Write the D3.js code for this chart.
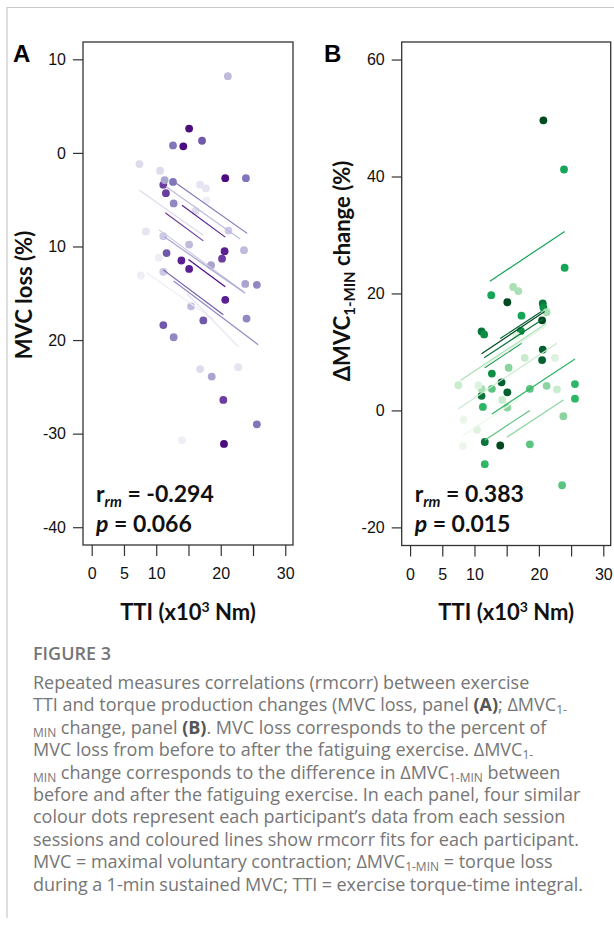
<!DOCTYPE html>
<html>
<head>
<meta charset="utf-8">
<script src="https://cdn.jsdelivr.net/npm/d3@7"></script>
<style>
  body { margin: 0; background: #fff; }
  svg { display: block; }
  .tick text { font-family: "Liberation Sans", Arial, sans-serif; font-size: 16px; fill: #111; }
  .tick line { stroke: #333; stroke-width: 1.2; }
  .ttl { font-family: Lato, "Open Sans", sans-serif; font-weight: 700; fill: #111; }
  .cap { font-family: "Open Sans", sans-serif; font-size: 18px; fill: #767676; }
</style>
</head>
<body>
<script>
// Achsen
const xTicks = [0, 5, 10, 15, 20, 25, 30];
const xTickLabels = ["0", "5", "10", "", "20", "", "30"];
const yTicksA = [10, 0, -10, -20, -30, -40];
const yTickLabelsA = ["10", "0", "10", "20", "-30", "-40"];
const yTicksB = [60, 40, 20, 0, -20];
const yTickLabelsB = ["60", "40", "20", "0", "-20"];

// Panel A: TTI (x10^3 Nm), MVC-Verlust (%), Proband
const ttiA  = [15.1, 14.2, 20.7, 20.5,  13.9, 15.1, 20.6, 20.7,  11.1, 11.5, 20.2, 20.4,
               11.6, 11.1, 17.3, 17.1,  12.6, 12.6, 23.9, 25.6,  12.7, 12.7, 25.6, 24.0,
               11.3, 18.6, 18.5, 23.8,  21.1, 15.1, 23.6, 15.4,  21.2, 11.1, 11.1,
               7.4, 10.6, 16.1, 16.8,   16.8, 17.7, 8.4, 22.7,   17.8, 10.4, 7.6, 14.0];
const lossA = [2.6, 0.7, -2.7, -31.1,   -11.5, -12.4, -10.5, -15.7,  -3.4, -4.3, -11.3, -26.4,
               -10.7, -18.4, -17.9, 1.3, 0.8, -3.1, -2.7, -29.0,     -5.4, -19.7, -14.1, -17.7,
               -2.9, -23.9, -12.0, -14.0, 8.2, -9.8, -10.4, -16.4,   -8.3, -8.9, -12.7,
               -1.2, -1.9, -6.2, -23.1,  -3.4, -3.8, -8.4, -22.9,    -5.1, -11.2, -13.1, -30.7];
const subjA = [11, 11, 11, 11, 10, 10, 10, 10, 9, 9, 9, 9, 8, 8, 8, 8, 7, 7, 7, 7, 6, 6, 6, 6,
               5, 5, 5, 5, 4, 4, 4, 4, 3, 3, 3, 2, 2, 2, 2, 1, 1, 1, 1, 0, 0, 0, 0];

// rmcorr-Geraden A
const fitSubjA = [7, 4, 2, 10, 9, 3, 11, 8, 6, 0, 1, 5];
const fitX0A = [12.6, 11.5, 7.4, 14.0, 11.4, 10.4, 15.0, 11.1, 12.7, 8.5, 14.7, 11.3];
const fitX1A = [24.1, 23.0, 17.3, 20.7, 17.3, 23.5, 20.7, 20.4, 25.8, 18.9, 22.7, 23.8];
const fitY0A = [-3.0, -3.6, -4.0, -5.6, -6.4, -8.2, -11.4, -12.5, -13.7, -12.8, -15.0, -9.0];
const fitY1A = [-8.6, -9.2, -8.8, -9.0, -9.4, -14.8, -14.3, -17.3, -20.5, -17.8, -20.7, -15.0];

// Panel B: TTI, Delta MVC 1-MIN (%), Proband
const ttiB   = [20.7, 15.1, 20.5, 14.0,  20.6, 20.5, 15.1, 14.2,  20.6, 11.1, 11.1, 11.6,
                20.7, 11.5, 17.2, 12.7,  23.9, 24.0, 12.6, 17.3,  25.6, 25.6, 11.3, 11.6,
                12.7, 18.6, 18.6, 23.6,  23.8, 15.1, 15.3, 21.2,  16.0, 16.8, 21.2, 11.1,
                7.5, 17.8, 14.3, 22.8,   16.5, 10.6, 22.5, 10.4,  8.3, 8.2];
const deltaB = [49.6, 18.5, 15.4, -6.0,  10.4, 8.6, 3.1, 4.8,     18.3, 13.5, 2.5, -5.4,
                17.6, 13.0, 13.6, 6.3,   41.2, 24.4, 19.7, 16.2,  4.5, 2.0, 0.6, -9.2,
                3.7, 3.7, -5.8, -12.8,   -1.0, 0.5, 7.3, 4.2,     21.1, 20.4, 16.8, 3.7,
                4.3, 9.0, 1.8, 3.6,      12.8, 4.3, 9.0, -3.3,    -1.6, -6.1];
const subjB = [11, 11, 11, 11, 10, 10, 10, 10, 9, 9, 9, 9, 8, 8, 8, 8, 7, 7, 7, 7, 6, 6, 6, 6,
               5, 5, 5, 5, 4, 4, 4, 4, 3, 3, 3, 3, 2, 2, 2, 2, 1, 1, 1, 1, 0, 0];

// rmcorr-Geraden B
const fitSubjB = [7, 11, 9, 10, 8, 3, 1, 6, 5, 4, 0, 2];
const fitX0B = [12.4, 11.1, 11.5, 14.0, 11.6, 7.8, 11.4, 12.7, 11.6, 15.0, 8.2, 7.5];
const fitX1B = [24.0, 20.9, 20.6, 20.4, 17.3, 21.2, 21.2, 25.6, 18.6, 23.8, 17.0, 22.8];
const fitY0B = [22.1, 9.7, 9.0, 12.3, 7.3, 5.1, 7.4, -0.6, -5.1, -4.6, -4.3, 0.3];
const fitY1B = [30.6, 16.9, 15.6, 16.9, 11.5, 14.9, 14.5, 8.8, 0.0, 1.8, 2.1, 11.5];

// Farben je Proband (hell -> dunkel)
const purples = ["#efeef6", "#e6e4f1", "#dddbec", "#cbc9e3", "#bebbdc", "#aaa4d0",
                 "#9088c3", "#8176b9", "#7058aa", "#6a3d9f", "#5a1f90", "#4b0c80"];
const greens = ["#ebf7eb", "#dff2e0", "#c9ebce", "#a9e0b5", "#8bd49f", "#5cc480",
                "#2db666", "#14a556", "#0c8f45", "#08763a", "#04602e", "#014a21"];

const W = 614, H = 931;
const svg = d3.select("body").append("svg").attr("width", W).attr("height", H);

// Rahmen der Seite
svg.append("path").attr("d", "M7,918V7.5H614")
  .attr("fill", "none").attr("stroke", "#c9c9c9").attr("stroke-width", 1.2);

function panel(o) {
  const x = d3.scaleLinear().domain(o.xDom).range([o.left, o.right]);
  const y = d3.scaleLinear().domain(o.yDom).range([o.top, o.bottom]);
  const g = svg.append("g");

  // Punkte
  g.append("g").selectAll("circle")
    .data(d3.range(o.xs.length))
    .join("circle")
      .attr("cx", i => x(o.xs[i]))
      .attr("cy", i => y(o.ys[i]))
      .attr("r", 3.9)
      .attr("fill", i => o.pal[o.subj[i]]);

  // Geraden
  g.append("g").selectAll("line")
    .data(d3.range(o.fx0.length))
    .join("line")
      .attr("x1", i => x(o.fx0[i])).attr("x2", i => x(o.fx1[i]))
      .attr("y1", i => y(o.fy0[i])).attr("y2", i => y(o.fy1[i]))
      .attr("stroke", i => o.pal[o.fsubj[i]])
      .attr("stroke-width", 1.2);

  g.append("rect")
    .attr("x", o.left).attr("y", o.top)
    .attr("width", o.right - o.left).attr("height", o.bottom - o.top)
    .attr("fill", "none").attr("stroke", "#333").attr("stroke-width", 1.3);

  const ya = g.append("g").attr("transform", `translate(${o.left},0)`)
    .call(d3.axisLeft(y).tickValues(o.yTicks).tickFormat((d, i) => o.yLabels[i])
      .tickSize(10).tickPadding(7));
  ya.select(".domain").remove();

  const xa = g.append("g").attr("transform", `translate(0,${o.bottom})`)
    .call(d3.axisBottom(x).tickValues(xTicks).tickFormat((d, i) => xTickLabels[i])
      .tickSize(11).tickPadding(12));
  xa.select(".domain").remove();

  // Panelbuchstabe
  svg.append("text").attr("x", o.letterX).attr("y", 62)
    .attr("font-family", "'Liberation Sans', Arial, sans-serif")
    .attr("font-weight", 700).attr("font-size", 24).text(o.letter);

  // x-Titel
  const xt = svg.append("text").attr("class", "ttl").attr("font-size", 22)
    .attr("x", (o.left + o.right) / 2).attr("y", 620).attr("text-anchor", "middle");
  xt.append("tspan").text("TTI (x10");
  xt.append("tspan").attr("font-size", 14).attr("dy", -8).text("3");
  xt.append("tspan").attr("dy", 8).text(" Nm)");

  // y-Titel
  const yt = svg.append("text").attr("class", "ttl").attr("font-size", 22)
    .attr("text-anchor", "middle")
    .attr("transform", `translate(${o.yTitleX},${o.yTitleY}) rotate(-90)`);
  o.yTitle(yt);

  // Statistik
  const r = svg.append("text").attr("class", "ttl").attr("font-size", 23)
    .attr("x", o.left + 13).attr("y", 502);
  r.append("tspan").text("r");
  r.append("tspan").attr("font-size", 15).attr("font-style", "italic").attr("dy", 5).text("rm");
  r.append("tspan").attr("dy", -5).text(" = " + o.r);
  const p = svg.append("text").attr("class", "ttl").attr("font-size", 23)
    .attr("x", o.left + 13).attr("y", 532);
  p.append("tspan").attr("font-style", "italic").text("p");
  p.append("tspan").text(" = " + o.p);
}

panel({
  left: 83, right: 293, top: 42, bottom: 545,
  xDom: [-1.35, 31.2], yDom: [11.85, -41.9],
  xs: ttiA, ys: lossA, subj: subjA,
  fx0: fitX0A, fx1: fitX1A, fy0: fitY0A, fy1: fitY1A, fsubj: fitSubjA,
  pal: purples, yTicks: yTicksA, yLabels: yTickLabelsA,
  letter: "A", letterX: 13, r: "-0.294", p: "0.066",
  yTitleX: 32, yTitleY: 295,
  yTitle: t => t.text("MVC loss (%)")
});

panel({
  left: 401.7, right: 610.7, top: 42, bottom: 545.5,
  xDom: [-1.3, 31.15], yDom: [63.0, -23.1],
  xs: ttiB, ys: deltaB, subj: subjB,
  fx0: fitX0B, fx1: fitX1B, fy0: fitY0B, fy1: fitY1B, fsubj: fitSubjB,
  pal: greens, yTicks: yTicksB, yLabels: yTickLabelsB,
  letter: "B", letterX: 324, r: "0.383", p: "0.015",
  yTitleX: 350, yTitleY: 271,
  yTitle: t => {
    t.append("tspan").text("ΔMVC");
    t.append("tspan").attr("font-size", 15).attr("dy", 5).text("1-MIN");
    t.append("tspan").attr("dy", -5).text(" change (%)");
  }
});

// Bildunterschrift
svg.append("text").attr("class", "cap").attr("x", 33).attr("y", 660)
  .attr("font-size", 19).attr("font-weight", 600).attr("fill", "#777").text("FIGURE 3");

const capLines = [
  [["Repeated measures correlations (rmcorr) between exercise"]],
  [["TTI and torque production changes (MVC loss, panel "], ["(A)", "b"], ["; ΔMVC"], ["1-", "s"]],
  [["MIN", "s"], [" change, panel "], ["(B)", "b"], [". MVC loss corresponds to the percent of"]],
  [["MVC loss from before to after the fatiguing exercise. ΔMVC"], ["1-", "s"]],
  [["MIN", "s"], [" change corresponds to the difference in ΔMVC"], ["1-MIN", "s"], [" between"]],
  [["before and after the fatiguing exercise. In each panel, four similar"]],
  [["colour dots represent each participant’s data from each session"]],
  [["sessions and coloured lines show rmcorr fits for each participant."]],
  [["MVC = maximal voluntary contraction; ΔMVC"], ["1-MIN", "s"], [" = torque loss"]],
  [["during a 1-min sustained MVC; TTI = exercise torque-time integral."]]
];
const capLeft = 33, capRight = 583;
capLines.forEach((line, i) => {
  const t = svg.append("text").attr("class", "cap").attr("x", capLeft).attr("y", 689 + i * 22.4);
  line.forEach(([s, k]) => {
    const ts = t.append("tspan").text(s);
    if (k === "b") ts.attr("font-weight", 700).attr("fill", "#555");
    if (k === "s") ts.attr("font-size", 12).attr("baseline-shift", "-2.5");
  });
  // zu lange Zeilen enger setzen (Flattersatz bleibt sonst)
  const len = t.node().getComputedTextLength();
  const n = line.map(d => d[0]).join("").split(" ").length - 1;
  if (len > capRight - capLeft && n > 0) t.attr("word-spacing", (capRight - capLeft - len) / n);
});
</script>
</body>
</html>
